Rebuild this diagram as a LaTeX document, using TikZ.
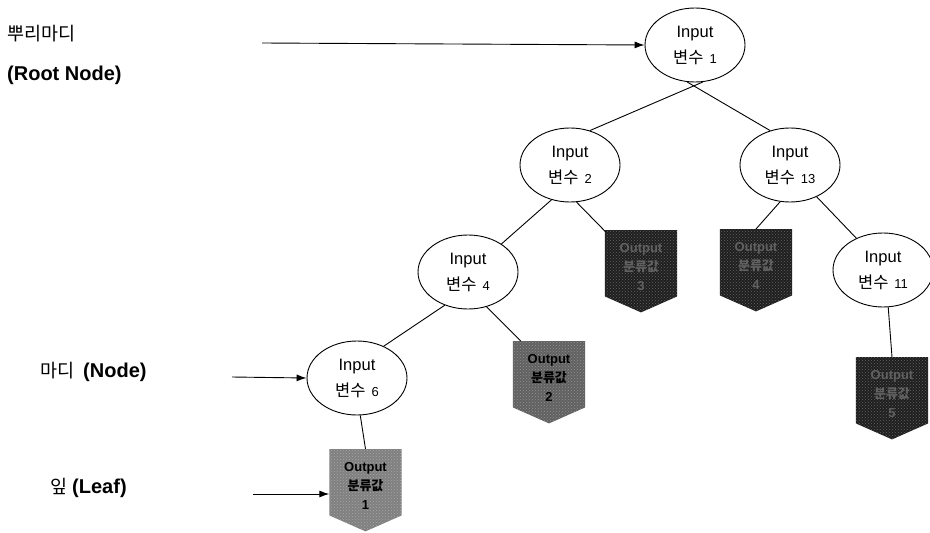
\documentclass[tikz,border=0pt]{standalone}
\usepackage{fontspec}
\setmainfont{Liberation Sans}
\newfontfamily\kr{Noto Sans CJK KR}
\usetikzlibrary{shapes.geometric,arrows.meta,calc,patterns}

\newcommand\leafbox[6]{% name, x, top y, fill, text colour, text
  \path node[leafbody] (#1) at (#2,#3) {};
  \fill[#4, postaction={pattern=crosshatch dots, pattern color=white, opacity=0.3}]
    (#1.north west) -- (#1.north east) -- (#1.south east)
    -- ($(#1.south)+(0,16)$) -- (#1.south west) -- cycle;
  \node[leaftext, text=#5] at ($(#1.center)+(0,4)$) {#6};
}

\begin{document}
\begin{tikzpicture}[x=1pt,y=-1pt,
  inode/.style={ellipse,draw,line width=0.9pt,minimum width=100pt,minimum height=74pt,
    inner sep=0pt,align=center,font=\fontsize{16.5}{18}\selectfont},
  leafbody/.style={rectangle,minimum width=72pt,minimum height=66pt,inner sep=0pt,anchor=north},
  leaftext/.style={inner sep=0pt,align=center,font=\bfseries\fontsize{13}{19}\selectfont},
  edge/.style={line width=0.9pt},
  arr/.style={line width=0.9pt,-{Latex[length=10pt,width=7pt]}},
  lbl/.style={anchor=west,inner sep=0pt,font=\bfseries\fontsize{20}{22}\selectfont},
  kl/.style={anchor=west,inner sep=0pt,font=\kr\fontsize{18.5}{22}\selectfont}]

\useasboundingbox (0,0) rectangle (930,533);

% variable nodes
\newcommand\var[1]{Input\\[8pt]{\kr 변수}\hspace{6pt}{\fontsize{13}{14}\selectfont #1}}
\node[inode] (n1)  at (695,45)  {\var{1}};
\node[inode] (n2)  at (570,165) {\var{2}};
\node[inode] (n13) at (790,165) {\var{13}};
\node[inode] (n4)  at (468,272) {\var{4}};
\node[inode] (n11) at (883,270) {\var{11}};
\node[inode] (n6)  at (357,378) {\var{6}};

% leaves
\newcommand\outtxt[1]{Output\\{\kr 분류값}\\#1}
\leafbox{leaf1}{365.5}{449}{black!50}{black}{\outtxt{1}}
\leafbox{leaf2}{549}{341}{black!62}{black}{\outtxt{2}}
\leafbox{leaf3}{641}{230}{black!88}{black!62}{\outtxt{3}}
\leafbox{leaf4}{756}{229}{black!88}{black!62}{\outtxt{4}}
\leafbox{leaf5}{892}{357}{black!88}{black!62}{\outtxt{5}}

% edges
\draw[edge] (n1.-78)  -- (n2.60);
\draw[edge] (n1.-102) -- (n13.120);
\draw[edge] (n2.-118) -- (n4.40);
\draw[edge] (n2.-80)  -- ($(leaf3.north west)+(1,2)$);
\draw[edge] (n13.-105) -- (leaf4.north);
\draw[edge] (n13.-50) -- (n11.130);
\draw[edge] (n4.-125) -- (n6.50);
\draw[edge] (n4.-62)  -- ($(leaf2.north west)+(8,0)$);
\draw[edge] (n6.-85)  -- (leaf1.north);
\draw[edge] (n11.-82) -- (leaf5.north);

% labels
\node[kl]  (rootk) at (7,34) {뿌리마디};
\node[lbl] (roote) at (7,75) {(Root Node)};
\node[anchor=west,inner sep=0pt] (nodel) at (40,372)
  {{\kr\fontsize{18.5}{22}\selectfont 마디}\hspace{9pt}{\bfseries\fontsize{20}{22}\selectfont (Node)}};
\node[anchor=west,inner sep=0pt] (leafl) at (50,488)
  {{\kr\fontsize{18.5}{22}\selectfont 잎}\hspace{5pt}{\bfseries\fontsize{20}{22}\selectfont (Leaf)}};

% pointer arrows
\coordinate (ra) at (262,43);
\coordinate (na) at (232,377);
\coordinate (la) at (253,494);
\draw[arr] (ra) -- (n1.west);
\draw[arr] (na) -- (n6.west);
\draw[arr] (la) -- (la -| leaf1.west);
\end{tikzpicture}
\end{document}
